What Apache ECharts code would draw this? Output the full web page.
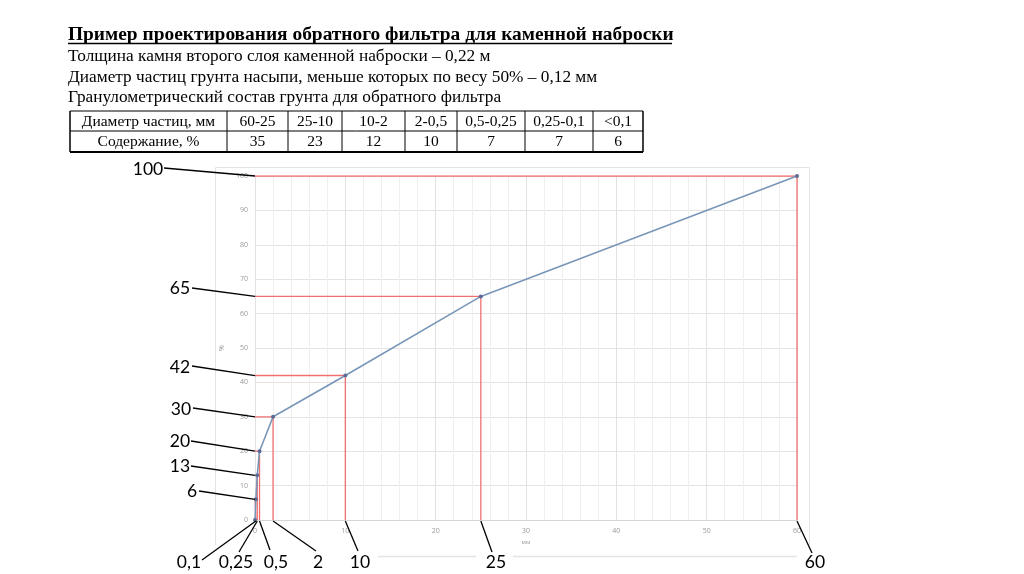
<!DOCTYPE html>
<html><head><meta charset="utf-8">
<script src="https://cdn.jsdelivr.net/npm/echarts@6/dist/echarts.min.js"></script>
<style>html,body{margin:0;padding:0;background:#fff}#c{width:1024px;height:574px}</style>
</head><body><div id="c"></div>
<script>
// ---- data ----
const titleText = 'Пример проектирования обратного фильтра для каменной наброски';
const infoLines = [
  'Толщина камня второго слоя каменной наброски – 0,22 м',
  'Диаметр частиц грунта насыпи, меньше которых по весу 50% – 0,12 мм',
  'Гранулометрический состав грунта для обратного фильтра'
];
const rowHeaders = ['Диаметр частиц, мм', 'Содержание, %'];
const diamRanges = ['60-25', '25-10', '10-2', '2-0,5', '0,5-0,25', '0,25-0,1', '<0,1'];
const contents = [35, 23, 12, 10, 7, 7, 6];
const sizes = [0, 0.1, 0.25, 0.5, 2, 10, 25, 60];          // мм
const passing = [0, 6, 13, 20, 30, 42, 65, 100];           // %
const yNotes = [100, 65, 42, 30, 20, 13, 6];
const xNoteValues = [0.1, 0.25, 0.5, 2, 10, 25, 60];
const xNoteTexts = ['0,1', '0,25', '0,5', '2', '10', '25', '60'];

// ---- layout ----
const colEdges = [70, 227, 288, 342, 405, 457, 525, 593, 643];
const rowEdges = [111, 131, 152];
const yNotePos = [[148,169],[180,288],[180,367],[181,409],[180,441],[180,466],[192,491]];
const yNoteStart = [[164,168],[192,288],[192,366],[193,408],[191,441],[191,466],[199,491]];
const xNotePos = [[189,562],[236,562],[276,562],[318,562],[360,562],[496,562],[815,562]];
const xNoteStart = [[202,560],[239,552],[270,550],[316,551],[358,551],[492,552],[812,553]];

const chart = echarts.init(document.getElementById('c'), null, {renderer: 'canvas'});

const xy = sizes.map((s, i) => [s, passing[i]]);
const guideSeries = sizes.slice(1).map((s, k) => {
  const p = passing[k + 1];
  return {
    type: 'line', silent: true, symbol: 'none', z: 3,
    itemStyle: {color: '#f07070'},
    lineStyle: {color: '#f07070', width: 1.3, opacity: 1},
    data: [[0, p], [s, p], [s, 0]]
  };
});

chart.setOption({
  animation: false,
  grid: {left: 255, right: 227, top: 176, bottom: 54},
  xAxis: {
    type: 'value', min: 0, max: 60, interval: 10,
    name: 'мм', nameLocation: 'middle', nameGap: 19,
    nameTextStyle: {color: '#999', fontSize: 6, fontFamily: 'Open Sans'},
    axisLine: {show: true, lineStyle: {color: '#d6d6d6'}},
    axisTick: {show: false},
    axisLabel: {color: '#999', fontSize: 7, fontFamily: 'Open Sans', margin: 7},
    splitLine: {show: true, lineStyle: {color: '#e2e2e2'}},
    minorTick: {show: false, splitNumber: 5},
    minorSplitLine: {show: true, lineStyle: {color: '#efefef'}}
  },
  yAxis: {
    type: 'value', min: 0, max: 100, interval: 10,
    name: '%', nameLocation: 'middle', nameGap: 13, nameRotate: 90,
    nameTextStyle: {color: '#999', fontSize: 7, fontFamily: 'Open Sans'},
    axisLine: {show: false}, axisTick: {show: false},
    axisLabel: {color: '#999', fontSize: 7, fontFamily: 'Open Sans', margin: 7},
    splitLine: {show: true, lineStyle: {color: '#e4e4e4'}}
  },
  series: guideSeries.concat([{
    type: 'line', z: 5, data: xy,
    symbol: 'circle', symbolSize: 4,
    itemStyle: {color: '#5b6b95'},
    lineStyle: {color: '#7896b8', width: 1.6}
  }])
});

// ---- overlays ----
const g = [];
// title & info
g.push({type: 'text', left: 68, top: 25, style: {text: titleText, font: 'bold 19.4px "Liberation Serif"', fill: '#000'}});
g.push({type: 'line', shape: {x1: 68, y1: 43.5, x2: 672, y2: 43.5}, style: {stroke: '#000', lineWidth: 1.3}});
infoLines.forEach((t, i) => g.push({type: 'text', left: 68, top: 48 + i * 20.7, style: {text: t, font: '17.3px "Liberation Serif"', fill: '#000'}}));
// table
const x0 = colEdges[0], x1 = colEdges[colEdges.length - 1];
rowEdges.forEach((y, i) => g.push({type: 'line', shape: {x1: x0, y1: y, x2: x1, y2: y}, style: {stroke: '#000', lineWidth: i === 2 ? 2 : 1}}));
colEdges.forEach((x, i) => g.push({type: 'line', shape: {x1: x, y1: rowEdges[0], x2: x, y2: rowEdges[2]}, style: {stroke: '#000', lineWidth: (i === 0 || i === colEdges.length - 1) ? 1.5 : 1}}));
const rows = [[rowHeaders[0]].concat(diamRanges), [rowHeaders[1]].concat(contents.map(String))];
rows.forEach((r, ri) => r.forEach((t, ci) => {
  g.push({type: 'text', x: (colEdges[ci] + colEdges[ci + 1]) / 2, y: (rowEdges[ri] + rowEdges[ri + 1]) / 2 + 0.5,
    style: {text: t, font: '15.5px "Liberation Serif"', fill: '#000', align: 'center', verticalAlign: 'middle'}});
}));
// chart frame
const fr = '#e3e3e3';
g.push({type: 'polyline', shape: {points: [[215.5, 545], [215.5, 167.5], [809.5, 167.5], [809.5, 545]]}, style: {stroke: fr, fill: null, lineWidth: 1}});
g.push({type: 'line', shape: {x1: 378, y1: 556.5, x2: 476, y2: 556.5}, style: {stroke: fr, lineWidth: 1.5}});
g.push({type: 'line', shape: {x1: 513, y1: 556.5, x2: 797, y2: 556.5}, style: {stroke: fr, lineWidth: 1.5}});
// annotations
const annFont = '17.5px Lato';
yNotes.forEach((v, i) => {
  const end = chart.convertToPixel({gridIndex: 0}, [0, v]);
  g.push({type: 'line', z: 10, shape: {x1: yNoteStart[i][0], y1: yNoteStart[i][1], x2: end[0], y2: end[1]}, style: {stroke: '#000', lineWidth: 1.3}});
  g.push({type: 'text', z: 10, x: yNotePos[i][0], y: yNotePos[i][1], style: {text: String(v), font: annFont, fill: '#000', align: 'center', verticalAlign: 'middle'}});
});
xNoteValues.forEach((v, i) => {
  const end = chart.convertToPixel({gridIndex: 0}, [v, 0]);
  g.push({type: 'line', z: 10, shape: {x1: xNoteStart[i][0], y1: xNoteStart[i][1], x2: end[0], y2: end[1] + 1}, style: {stroke: '#000', lineWidth: 1.3}});
  g.push({type: 'text', z: 10, x: xNotePos[i][0], y: xNotePos[i][1], style: {text: xNoteTexts[i], font: annFont, fill: '#000', align: 'center', verticalAlign: 'middle'}});
});
chart.setOption({graphic: g});
</script></body></html>
